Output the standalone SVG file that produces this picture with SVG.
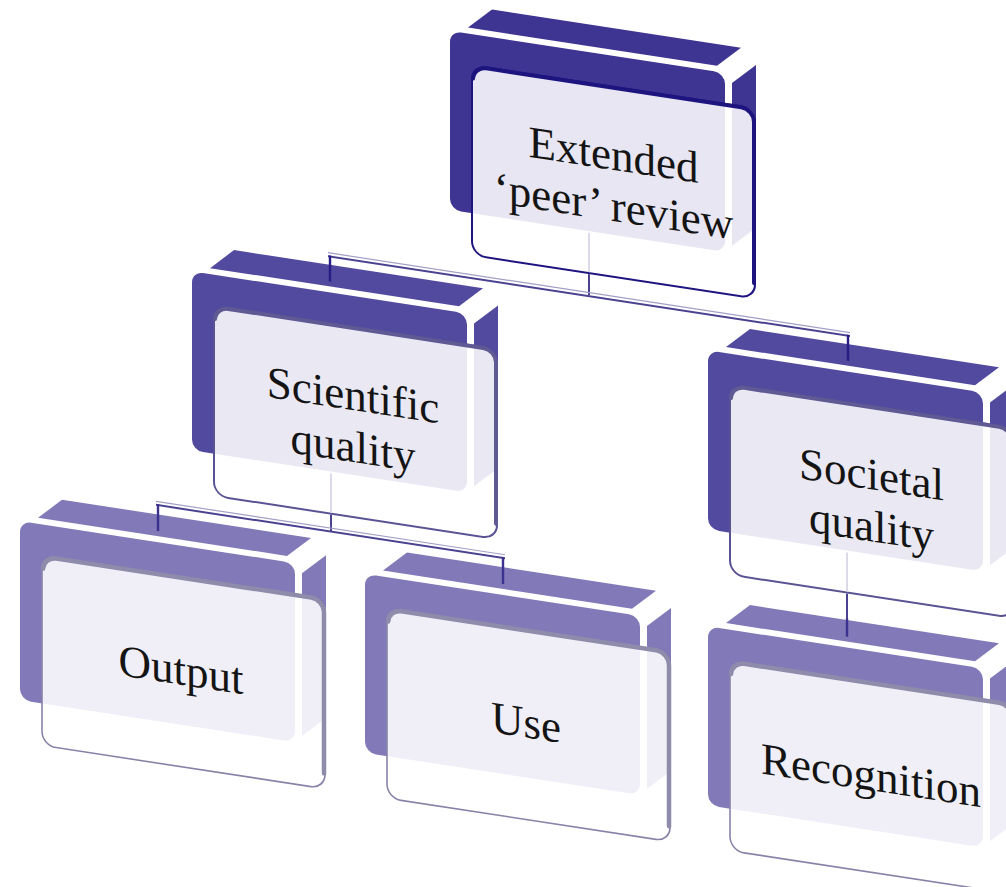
<svg xmlns="http://www.w3.org/2000/svg" width="1006" height="887" viewBox="0 0 1006 887">
<style>
.l1 .box{fill:#3e3492}
.l2 .box{fill:#514a9e}
.l3 .box{fill:#8179b8}
.card{fill:#ffffff;fill-opacity:.88}
.l1 .card{stroke:#1d1480;stroke-width:2}
.l2 .card{stroke:#5a5393;stroke-width:2}
.l3 .card{stroke:#8783a8;stroke-width:1.6}
.band{fill:none;stroke-linecap:round}
.l1 .band{stroke:#1d1480;stroke-width:4}
.l2 .band{stroke:#5f5994;stroke-width:4}
.l3 .band{stroke:#8f8cab;stroke-width:4.5}
.lbl{font-family:"Liberation Serif","Times New Roman",serif;font-size:45px;fill:#141414;text-anchor:middle}
.cl{fill:none;stroke:#dcdae8;stroke-width:2}
.cd{fill:none;stroke:#4a4290;stroke-width:2}
.ct{fill:none;stroke:#a29ec6;stroke-width:1.2}
.dr{fill:none;stroke:#271d84;stroke-width:2.4}
.dr3{fill:none;stroke:#3b3290;stroke-width:2.4}
</style>
<defs>
<g id="boxshape">
<polygon points="18,-6 267,-6 291,-27.7 42,-27.7"/>
<rect x="0" y="0" width="275" height="179" rx="11"/>
<polygon points="282,9 306,-12.7 306,150 282,171.7"/>
</g>
</defs>
<rect width="1006" height="887" fill="#ffffff"/>
<g transform="matrix(1 0.153 0 1 0 0)">
<g id="node-top" class="l1" transform="translate(450,-38)">
<use class="box" href="#boxshape"/>
<rect class="card" x="22" y="31" width="283" height="190" rx="14"/>
<path class="band" d="M23 44 A13 13 0 0 1 36 32 L291 32 A13 13 0 0 1 304 45 L304 206"/>
<text class="lbl" x="163.5" y="114">Extended</text>
<text class="lbl" x="163.5" y="165">‘peer’ review</text>
</g>
<g id="node-scientific" class="l2" transform="translate(192,242)">
<use class="box" href="#boxshape"/>
<rect class="card" x="22" y="31" width="283" height="190" rx="14"/>
<path class="band" d="M23 44 A13 13 0 0 1 36 32 L291 32 A13 13 0 0 1 304 45 L304 206"/>
<text class="lbl" x="161" y="114">Scientific</text>
<text class="lbl" x="161" y="166">quality</text>
</g>
<g id="node-societal" class="l2" transform="translate(708,242)">
<use class="box" href="#boxshape"/>
<rect class="card" x="22" y="31" width="283" height="190" rx="14"/>
<path class="band" d="M23 44 A13 13 0 0 1 36 32 L291 32 A13 13 0 0 1 304 45 L304 206"/>
<text class="lbl" x="163.5" y="114">Societal</text>
<text class="lbl" x="163.5" y="166">quality</text>
</g>
<g id="node-output" class="l3" transform="translate(20,518)">
<use class="box" href="#boxshape"/>
<rect class="card" x="22" y="31" width="283" height="190" rx="14"/>
<path class="band" d="M23 44 A13 13 0 0 1 36 32 L291 32 A13 13 0 0 1 304 45 L304 206"/>
<text class="lbl" x="161" y="139">Output</text>
</g>
<g id="node-use" class="l3" transform="translate(365,518)">
<use class="box" href="#boxshape"/>
<rect class="card" x="22" y="31" width="283" height="190" rx="14"/>
<path class="band" d="M23 44 A13 13 0 0 1 36 32 L291 32 A13 13 0 0 1 304 45 L304 206"/>
<text class="lbl" x="161" y="139">Use</text>
</g>
<g id="node-recognition" class="l3" transform="translate(708,518)">
<use class="box" href="#boxshape"/>
<rect class="card" x="22" y="31" width="283" height="190" rx="14"/>
<path class="band" d="M23 44 A13 13 0 0 1 36 32 L291 32 A13 13 0 0 1 304 45 L304 206"/>
<text class="lbl" x="163" y="139">Recognition</text>
</g>
<g id="connectors">
<path class="cl" d="M589 143 V182"/>
<path class="cd" d="M589 184 V205"/>
<path class="ct" d="M328 202.5 H850"/>
<path class="cd" d="M328 206 H850"/>
<path class="dr" d="M330 205 V231"/>
<path class="dr" d="M848 205 V231"/>
<path class="cl" d="M331 423 V462"/>
<path class="cd" d="M331 464 V481"/>
<path class="ct" d="M156 477.5 H505"/>
<path class="cd" d="M156 481 H505"/>
<path class="dr3" d="M158 480 V507"/>
<path class="dr3" d="M503 480 V507"/>
<path class="cl" d="M847 423 V462"/>
<path class="cd" d="M847 464 V490"/>
<path class="dr3" d="M847 489 V507"/>
</g>
</g>
</svg>
